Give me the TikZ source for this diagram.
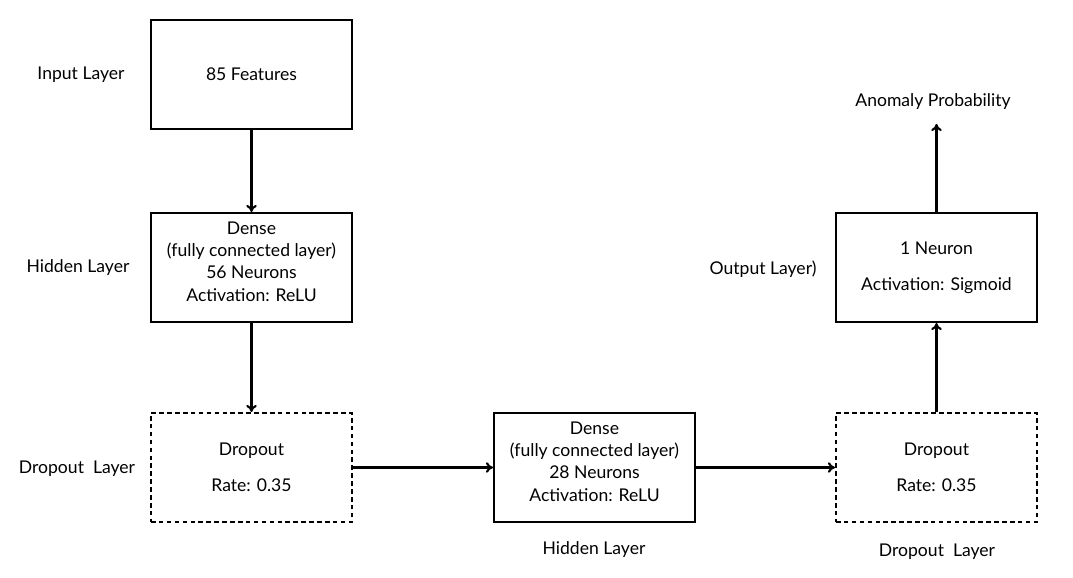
\documentclass[tikz,border=0pt]{standalone}
\usepackage{fontspec}
\setmainfont{Lato}
\usetikzlibrary{arrows.meta}
\tikzset{
  layerbox/.style={draw,line width=1.2pt,minimum width=4.02cm,minimum height=2.18cm,
    align=center,font=\fontsize{10}{12.7}\selectfont},
  dropbox/.style={layerbox,dash pattern=on 2.6pt off 1.9pt},
  sidelabel/.style={font=\fontsize{10}{12}\selectfont},
  flow/.style={line width=1.2pt,-{To[length=4pt,width=6pt]}}
}
\begin{document}
\begin{tikzpicture}[x=0.02cm,y=-0.02cm]
\useasboundingbox (0,0) rectangle (1073,578);
% boxes
\node[layerbox] (inp)   at (251.5,74.5)  {85 Features};
\node[layerbox] (hidA)  at (251.5,267.5) {Dense\\(fully connected layer)\\56 Neurons\\Activation: ReLU\\[-5.9pt]\mbox{}};
\node[dropbox]  (dropA) at (251.5,467.5) {Dropout\\[8pt]Rate: 0.35};
\node[layerbox] (hidB)  at (594.5,467.5) {Dense\\(fully connected layer)\\28 Neurons\\Activation: ReLU\\[-5.9pt]\mbox{}};
\node[dropbox]  (dropB) at (936.5,467.5) {Dropout\\[8pt]Rate: 0.35};
\node[layerbox] (outp)  at (936.5,267.5) {1 Neuron\\[8pt]Activation: Sigmoid};
% labels
\node[sidelabel] (linp)   at (81,75)   {Input Layer};
\node[sidelabel] (lhidA)  at (78,268)  {Hidden Layer};
\node[sidelabel] (ldropA) at (77,469)  {Dropout\ \ Layer};
\node[sidelabel] (lhidB)  at (594,550) {Hidden Layer};
\node[sidelabel] (ldropB) at (937,552) {Dropout\ \ Layer};
\node[sidelabel] (loutp)  at (763,269) {Output Layer)};
\node[sidelabel] (prob)   at (933,102) {Anomaly Probability};
\coordinate (probin) at (936.5,124);
% arrows
\draw[flow] (inp) -- (hidA);
\draw[flow] (hidA) -- (dropA);
\draw[flow] (dropA) -- (hidB);
\draw[flow] (hidB) -- (dropB);
\draw[flow] (dropB) -- (outp);
\draw[flow] (outp) -- (probin);
\end{tikzpicture}
\end{document}
